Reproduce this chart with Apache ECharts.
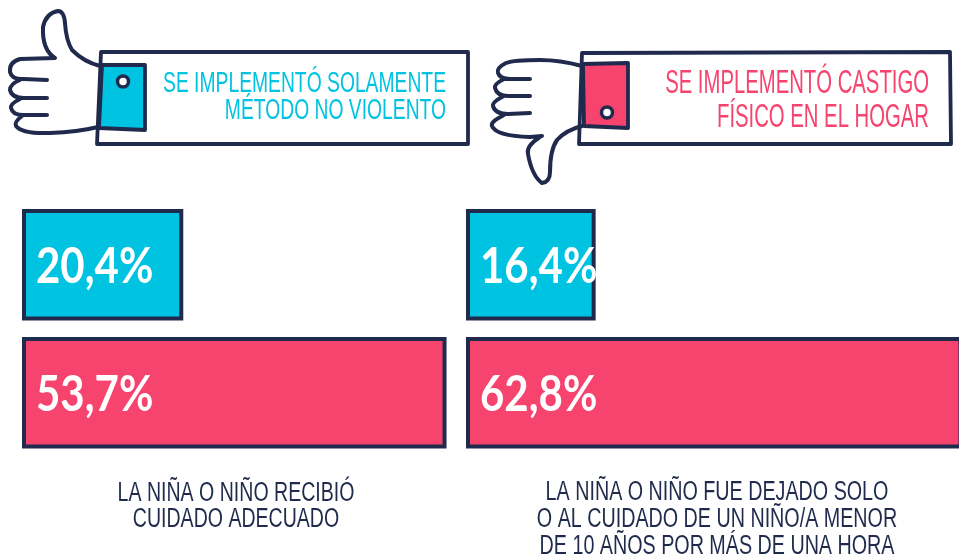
<!DOCTYPE html>
<html>
<head>
<meta charset="utf-8">
<style>
  html, body { margin: 0; padding: 0; background: #fff; }
  #chart { width: 959px; height: 556px; }
</style>
<script src="https://cdn.jsdelivr.net/npm/echarts@6/dist/echarts.min.js"></script>
</head>
<body>
<div id="chart"></div>
<script>
const metodos = ['Solamente método no violento', 'Castigo físico en el hogar']
const cuidadoAdecuado = [20.4, 53.7]
const dejadoSolo = [16.4, 62.8]
const leyendaNoViolento = 'SE IMPLEMENTÓ SOLAMENTE\nMÉTODO NO VIOLENTO'
const leyendaCastigo = 'SE IMPLEMENTÓ CASTIGO\nFÍSICO EN EL HOGAR'
const captionIzq = 'LA NIÑA O NIÑO RECIBIÓ\nCUIDADO ADECUADO'
const captionDer = 'LA NIÑA O NIÑO FUE DEJADO SOLO\nO AL CUIDADO DE UN NIÑO/A MENOR\nDE 10 AÑOS POR MÁS DE UNA HORA'

const CYAN = '#00c3e1'
const PINK = '#f7446f'
const NAVY = '#1f2a4d'
const FONT = '"Liberation Sans", sans-serif'

// hand outlines
const handUp = 'M100 66 Q84 62 72 50 Q66 40 65 23 Q64 11 58 11 Q46 13 43 27 Q42 50 55 58 ' +
  'L20 59 Q9 62 10 72 Q12 80 24 79 L47 80 M20 80 Q10 84 10 90 Q12 98 24 98 L47 98 ' +
  'M20 99 Q10 104 11 108 Q13 116 26 115 L47 115 M22 116 Q14 122 16 126 Q22 134 50 133 Q78 132 98 127'
const handDown = 'M582 66 Q560 60 540 60 Q514 60 506 63 Q496 68 498 73 Q500 79 510 79 L530 79 ' +
  'M504 79 Q494 84 495 88 Q497 96 508 96 L530 96 M504 96 Q492 102 493 106 Q495 114 508 114 L530 113 ' +
  'M504 115 Q490 122 492 126 Q496 136 530 137 L542 136 M540 137 Q526 146 528 154 Q532 176 542 183 ' +
  'Q550 182 550 172 Q550 150 557 140 Q566 130 582 126'

function texto(x, y, text, size, lineHeight, color, align, scaleX) {
  return {
    type: 'text',
    x: x,
    y: y,
    scaleX: scaleX,
    z: 10,
    style: {
      text: text,
      x: 0,
      y: 0,
      fill: color,
      font: size + 'px ' + FONT,
      lineHeight: lineHeight,
      align: align,
      verticalAlign: 'middle'
    }
  }
}

function trazo(pathData, fill, width) {
  return {
    type: 'path',
    shape: { pathData: pathData },
    style: { fill: fill || 'none', stroke: NAVY, lineWidth: width, lineCap: 'round', lineJoin: 'round' }
  }
}

function boton(cx, cy) {
  return {
    type: 'circle',
    shape: { cx: cx, cy: cy, r: 5.5 },
    style: { fill: '#fff', stroke: NAVY, lineWidth: 3.5 }
  }
}

function barSerie(values, idx) {
  return {
    type: 'bar',
    xAxisIndex: idx,
    yAxisIndex: idx,
    barWidth: 111.5,
    silent: true,
    data: values.map((v, i) => ({ value: v, itemStyle: { color: i === 0 ? CYAN : PINK } })),
    itemStyle: { borderColor: NAVY, borderWidth: 4 }
  }
}

// bar values as custom text, a normal bar label cannot be narrowed
function labelSerie(values, idx) {
  return {
    type: 'custom',
    xAxisIndex: idx,
    yAxisIndex: idx,
    silent: true,
    z: 4,
    data: values.map((v, i) => [v, i]),
    encode: { x: 0, y: 1 },
    renderItem: (params, api) => {
      const p = api.coord([0, params.dataIndex])
      return {
        type: 'text',
        x: p[0] + 14,
        y: p[1] + 2,
        scaleX: 0.84,
        style: {
          text: api.value(0).toFixed(1).replace('.', ',') + '%',
          x: 0,
          y: 0,
          fill: '#fff',
          font: 'bold 50px Lato, sans-serif',
          align: 'left',
          verticalAlign: 'middle'
        }
      }
    }
  }
}

// the right grid runs past the window on purpose, the long bar is cut off in the picture
const grids = [
  { left: 22, top: 200.8, width: 553.4, height: 256, outerBoundsMode: 'none' },
  { left: 466, top: 200.8, width: 553.4, height: 256, outerBoundsMode: 'none' }
]

const option = {
  animation: false,
  backgroundColor: '#fff',
  grid: grids,
  xAxis: grids.map((g, i) => ({ type: 'value', gridIndex: i, min: 0, max: 70, show: false })),
  yAxis: grids.map((g, i) => ({ type: 'category', gridIndex: i, inverse: true, data: metodos, show: false })),
  series: [
    barSerie(cuidadoAdecuado, 0),
    barSerie(dejadoSolo, 1),
    labelSerie(cuidadoAdecuado, 0),
    labelSerie(dejadoSolo, 1),
    {
      // hands, cuffs and legend boxes
      type: 'custom',
      coordinateSystem: 'none',
      silent: true,
      data: [0],
      renderItem: () => ({
        type: 'group',
        children: [
          trazo('M101 52 L468 52 L468 144 L97 144 Z', null, 3.8),
          trazo('M582 53 L950 52 L951 144 L579 144 Z', null, 3.8),
          trazo(handUp, null, 4),
          trazo(handDown, null, 4),
          trazo('M102 65 L145 65 L145 130 L99 128 Z', CYAN, 3.8),
          trazo('M583 64 L628 63 L628 128 L584 126 Z', PINK, 3.8),
          boton(123, 81.5),
          boton(607, 112.5)
        ]
      })
    }
  ],
  graphic: [
    texto(446, 97, leyendaNoViolento, 30, 27, CYAN, 'right', 0.643),
    texto(929, 101, leyendaCastigo, 33, 33.5, PINK, 'right', 0.615),
    texto(236, 507, captionIzq, 27, 26, NAVY, 'center', 0.724),
    texto(717, 520, captionDer, 27, 27, NAVY, 'center', 0.73)
  ]
}

const myChart = echarts.init(document.getElementById('chart'), null, { renderer: 'canvas' })
myChart.setOption(option)
</script>
</body>
</html>
